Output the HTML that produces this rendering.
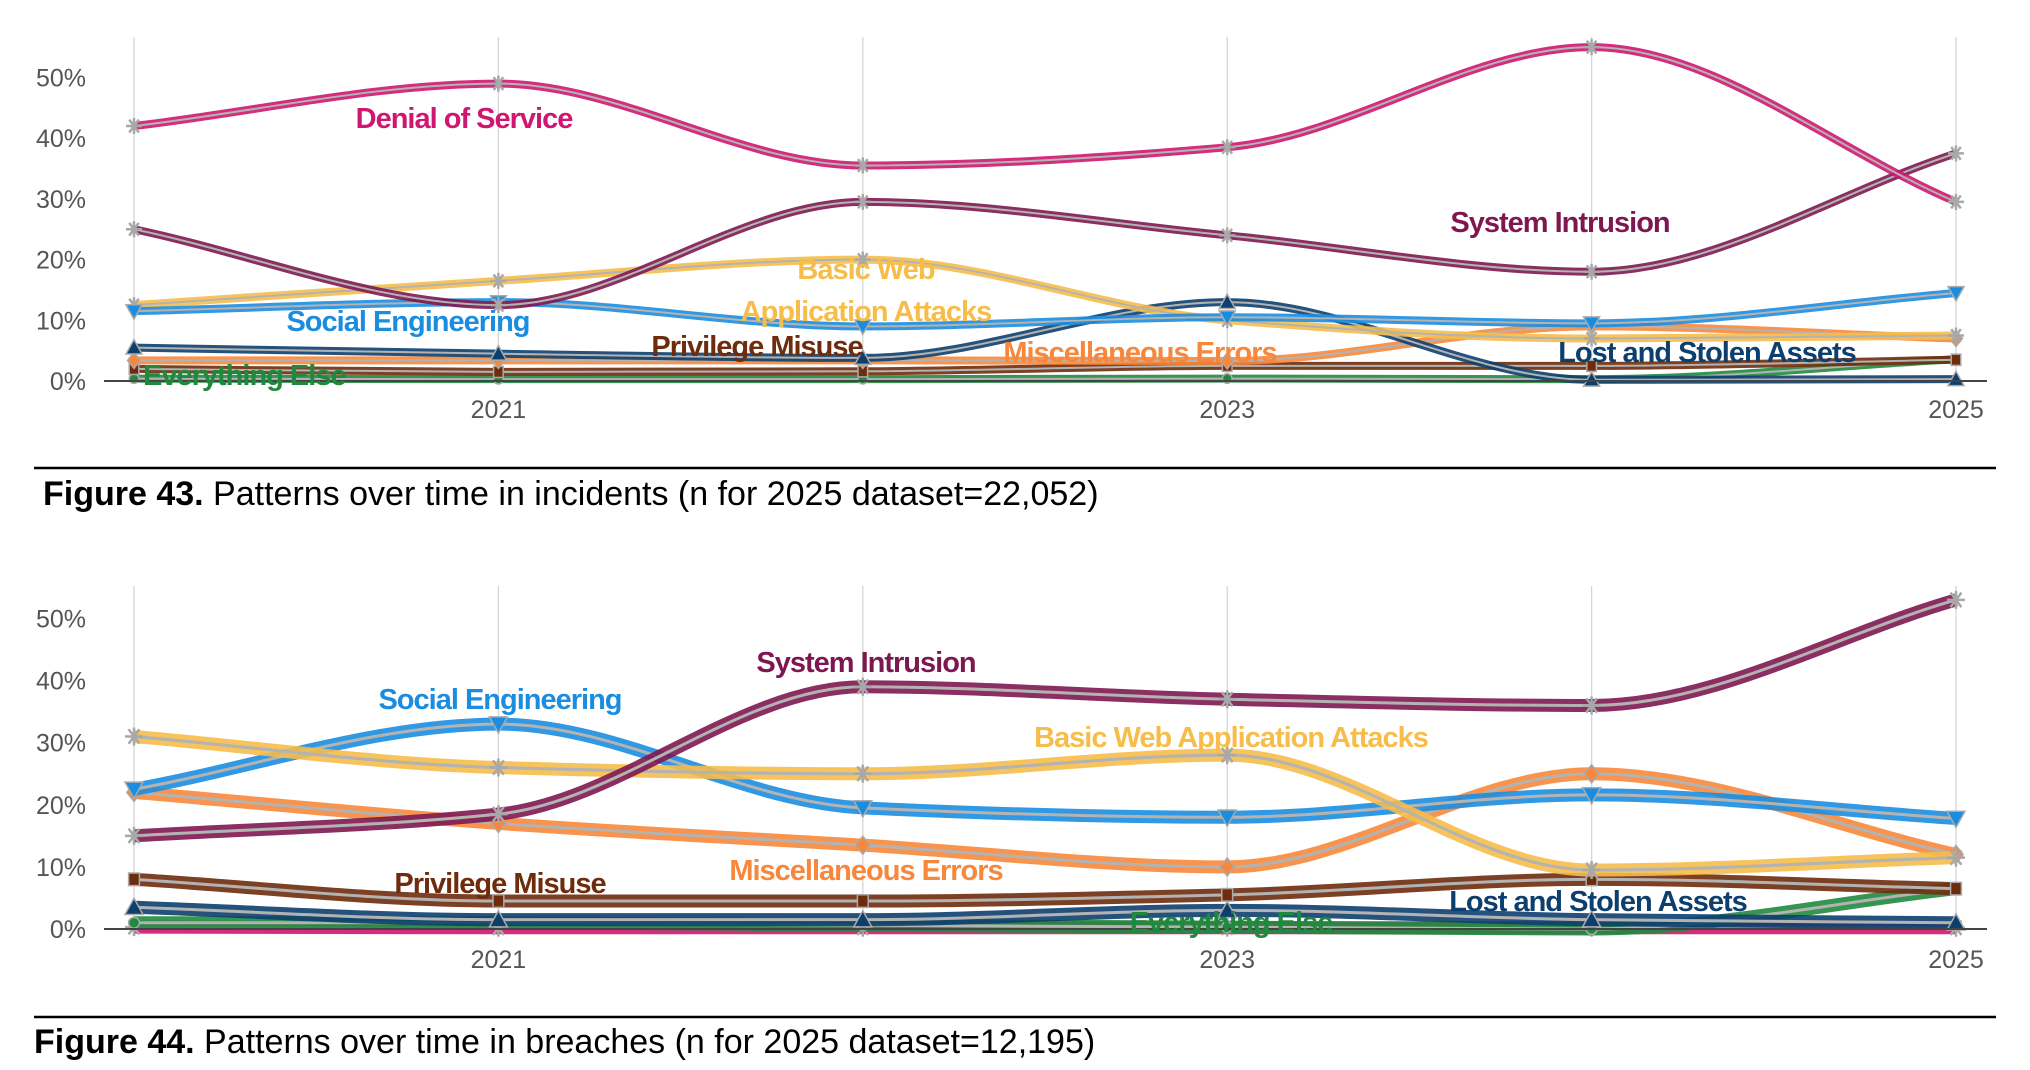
<!DOCTYPE html>
<html><head><meta charset="utf-8">
<style>
html,body{margin:0;padding:0;background:#fff;}
body{width:2030px;height:1070px;overflow:hidden;font-family:"Liberation Sans",sans-serif;}
svg{display:block;}
.tick{font-size:25px;fill:#555;}
.lbl{font-size:29px;font-weight:bold;letter-spacing:-1px;}
.cap{font-size:34px;fill:#000;}
</style></head>
<body>
<svg id="svg" width="2030" height="1070" viewBox="0 0 2030 1070"></svg>
<script>
// ---- data ----
const years = [2020, 2021, 2022, 2023, 2024, 2025];
const yearTickLabels = ["2021", "2023", "2025"];
const yTickValues = [0, 10, 20, 30, 40, 50];
const seriesNames = ["Denial of Service","System Intrusion","Basic Web Application Attacks","Social Engineering","Lost and Stolen Assets","Miscellaneous Errors","Privilege Misuse","Everything Else"];
// Figure 43 (incidents)
const incDoS   = [42, 49, 35.5, 38.5, 55, 29.5];
const incSI    = [25, 12.5, 29.5, 24, 18, 37.5];
const incBWA   = [12.5, 16.5, 20, 10, 7, 7.5];
const incSE    = [11.5, 13, 9, 10.5, 9.5, 14.5];
const incLost  = [5.5, 4.5, 3.8, 13, 0.2, 0.3];
const incMisc  = [3.4, 3.4, 3.4, 3.3, 9, 7];
const incPriv  = [2, 1.5, 1.6, 2.5, 2.5, 3.5];
const incElse  = [0.4, 0.3, 0.3, 0.4, 0.3, 3.6];
// Figure 44 (breaches)
const brDoS    = [0.3, 0.2, 0.2, 0.2, 0.2, 0.2];
const brSI     = [15, 18.5, 39, 37, 36, 53];
const brBWA    = [31, 26, 25, 28, 9.5, 11.5];
const brSE     = [22.5, 33, 19.5, 18, 21.6, 17.8];
const brLost   = [3.5, 1.5, 1.5, 3, 1.5, 1];
const brMisc   = [22, 17, 13.5, 10, 25, 12];
const brPriv   = [8, 4.5, 4.5, 5.5, 8, 6.5];
const brElse   = [1, 1, 0.6, 0.3, 0, 6.5];

const colors = {"Denial of Service":"#cf1670","System Intrusion":"#7e1750","Basic Web Application Attacks":"#f6bd4a","Social Engineering":"#1b8de0","Lost and Stolen Assets":"#0c3f6e","Miscellaneous Errors":"#f7883b","Privilege Misuse":"#6e2c0c","Everything Else":"#1f8a3e"};
const markers = {"Denial of Service":"star","System Intrusion":"star","Basic Web Application Attacks":"star","Social Engineering":"tridown","Lost and Stolen Assets":"triup","Miscellaneous Errors":"diamond","Privilege Misuse":"square","Everything Else":"circle"};

const NS = "http://www.w3.org/2000/svg";
const svg = document.getElementById("svg");
function mk(tag, attrs, parent){const e=document.createElementNS(NS,tag);for(const k in attrs)e.setAttribute(k,attrs[k]);(parent||svg).appendChild(e);return e;}

function xScale(i){return 134 + i*364.4;}

function monotonePath(pts){
  const n=pts.length;const dx=[],m=[],t=[];
  for(let i=0;i<n-1;i++){dx[i]=pts[i+1][0]-pts[i][0];m[i]=(pts[i+1][1]-pts[i][1])/dx[i];}
  t[0]=m[0];t[n-1]=m[n-2];
  for(let i=1;i<n-1;i++){if(m[i-1]*m[i]<=0)t[i]=0;else t[i]=3*(dx[i-1]+dx[i])/((2*dx[i]+dx[i-1])/m[i-1]+(dx[i]+2*dx[i-1])/m[i]);}
  let d="M"+pts[0][0]+","+pts[0][1];
  for(let i=0;i<n-1;i++){const h=dx[i]/3;d+=" C"+(pts[i][0]+h)+","+(pts[i][1]+t[i]*h)+" "+(pts[i+1][0]-h)+","+(pts[i+1][1]-t[i+1]*h)+" "+pts[i+1][0]+","+pts[i+1][1];}
  return d;
}

function marker(g,type,x,y,col,s){
  let e;
  if(type==="star"){
    e=mk("path",{d:`M${x-s},${y}H${x+s}M${x-s*0.6},${y-s*0.8}L${x+s*0.6},${y+s*0.8}M${x+s*0.6},${y-s*0.8}L${x-s*0.6},${y+s*0.8}M${x},${y-s}V${y+s}`,stroke:"#a8a8a8","stroke-width":2.5,fill:"none"},g);
  }else if(type==="tridown"){
    e=mk("path",{d:`M${x-s},${y-s*0.8}L${x+s},${y-s*0.8}L${x},${y+s}Z`,fill:col,stroke:"#aaa","stroke-width":1.5},g);
  }else if(type==="triup"){
    e=mk("path",{d:`M${x-s},${y+s*0.8}L${x+s},${y+s*0.8}L${x},${y-s}Z`,fill:col,stroke:"#aaa","stroke-width":1.5},g);
  }else if(type==="diamond"){
    e=mk("path",{d:`M${x},${y-s}L${x+s*0.8},${y}L${x},${y+s}L${x-s*0.8},${y}Z`,fill:col,stroke:"#aaa","stroke-width":1.5},g);
  }else if(type==="square"){
    e=mk("rect",{x:x-s*0.6,y:y-s*0.7,width:s*1.2,height:s*1.4,fill:col,stroke:"#aaa","stroke-width":1.5},g);
  }else{
    e=mk("circle",{cx:x,cy:y,r:s*0.6,fill:col,stroke:"#aaa","stroke-width":1.5},g);
  }
  
  
}

function drawChart(cfg){
  const g=mk("g",{});
  
  
  const yS=v=>cfg.y0 - v*cfg.per;
  years.forEach((yr,i)=>{
    const l=mk("line",{x1:xScale(i),x2:xScale(i),y1:cfg.gridTop,y2:cfg.y0,stroke:"#d6d6d6","stroke-width":1.3},g);
    
    
  });
  yTickValues.forEach(v=>{
    const t=mk("text",{x:86,y:yS(v)+9,"text-anchor":"end",class:"tick"},g);
    t.textContent=v+"%";
    
    
  });
  cfg.order.forEach(idx=>{
    const name=seriesNames[idx];const vals=cfg.data[idx];
    if(!vals)return;
    const pts=vals.map((v,i)=>[xScale(i),yS(v)]);
    const d=monotonePath(pts);
    const sg=mk("g",{},g);
    
    
    const band=mk("path",{d:d,stroke:colors[name],"stroke-width":cfg.bw,fill:"none","stroke-opacity":0.9},sg);
    
    
    const c=mk("path",{d:d,stroke:"#b3b3b3","stroke-width":cfg.cw,fill:"none"},sg);
    
    
    pts.forEach(p=>marker(sg,markers[name],p[0],p[1],colors[name],cfg.ms));
  });
  const ax=mk("line",{x1:104,x2:1987,y1:cfg.y0,y2:cfg.y0,stroke:"#444","stroke-width":2},g);
  
  
  yearTickLabels.forEach(lbl=>{
    const i=years.indexOf(+lbl);
    const t=mk("text",{x:xScale(i),y:cfg.yearY,"text-anchor":"middle",class:"tick"},g);
    t.textContent=lbl;
    
    
  });
  cfg.labels.forEach(L=>{
    const t=mk("text",{x:L[1],y:L[2],"text-anchor":L[3]||"middle",class:"lbl",fill:colors[seriesNames[L[0]]]},g);
    t.textContent=L[4]||seriesNames[L[0]];
    
    
  });
  const cl=mk("line",{x1:34,x2:1996,y1:cfg.capLine,y2:cfg.capLine,stroke:"#000","stroke-width":2.5},g);
  
  
  const ct=mk("text",{x:cfg.capX,y:cfg.capY,class:"cap"},g);
  
  
  const b=mk("tspan",{"font-weight":"bold"},ct);b.textContent=cfg.capBold;
  const r=mk("tspan",{},ct);r.textContent=cfg.capText;
}

drawChart({name:"figure-43-incidents",y0:381,per:6.07,gridTop:37,yearY:418,bw:8,cw:2,ms:8,
  data:[incDoS,incSI,incBWA,incSE,incLost,incMisc,incPriv,incElse],
  order:[7,6,5,4,2,3,1,0],
  labels:[[0,464,128],[1,1560,232],[2,866,279,"middle","Basic Web"],[2,866,321,"middle","Application Attacks"],[3,408,331],[6,757,356],[5,1140,362],[4,1707,362],[7,143,385,"start"]],
  capLine:468,capX:43,capY:505,capBold:"Figure 43.",capText:" Patterns over time in incidents (n for 2025 dataset=22,052)"});

drawChart({name:"figure-44-breaches",y0:929,per:6.21,gridTop:586,yearY:968,bw:13,cw:3,ms:9,
  data:[brDoS,brSI,brBWA,brSE,brLost,brMisc,brPriv,brElse],
  order:[0,7,4,6,5,3,2,1],
  labels:[[1,866,672],[3,500,709],[2,1231,747],[6,500,893],[5,866,880],[4,1598,911],[7,1231,932]],
  capLine:1017,capX:34,capY:1053,capBold:"Figure 44.",capText:" Patterns over time in breaches (n for 2025 dataset=12,195)"});
</script>
</body></html>
